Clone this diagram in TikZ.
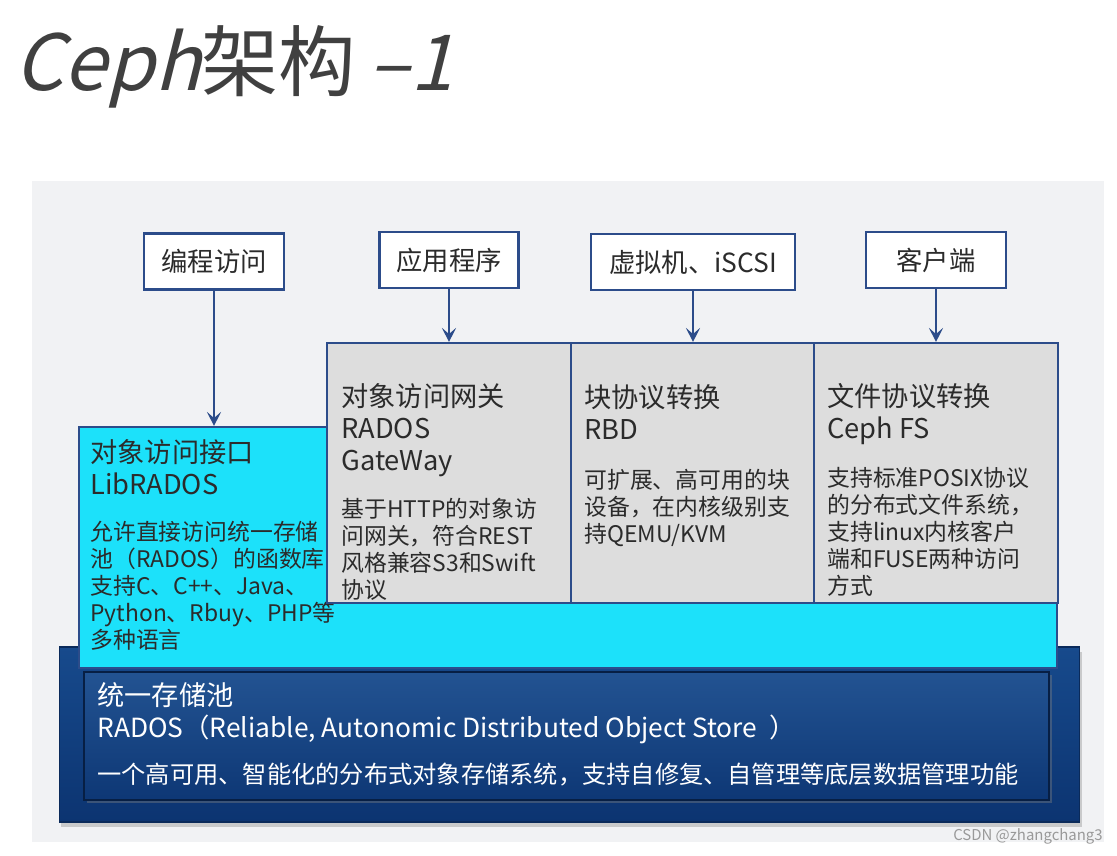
\documentclass[tikz,border=0pt]{standalone}
\usepackage{fontspec}
\setmainfont{Noto Sans CJK SC}
\newfontfamily\handfont[FakeSlant=0.25]{Noto Sans CJK SC}
\usepackage{xcolor}
\usepackage{tikz}
\usetikzlibrary{arrows.meta,shadows}

\definecolor{panelgray}{HTML}{F1F2F4}
\definecolor{lineblue}{HTML}{2C4C8A}
\definecolor{libcyan}{HTML}{1CE1FA}
\definecolor{gwgray}{HTML}{DDDDDD}
\definecolor{poolblue}{HTML}{174A8C}
\definecolor{pooldark}{HTML}{0C3471}
\definecolor{inktext}{HTML}{2B2B2B}

\begin{document}
\begin{tikzpicture}[x=0.02cm, y=-0.02cm,
    >={Stealth[length=8pt,width=8pt,inset=3.5pt]},
    accessbox/.style={draw=lineblue, line width=1.4pt, fill=white, minimum height=1.12cm, font=\fontsize{15}{18}\selectfont, text=inktext},
    layerbox/.style={draw=lineblue, line width=1.2pt, fill=gwgray, minimum width=4.88cm, minimum height=5.2cm},
    headtext/.style={anchor=north west, align=left, inner sep=0pt, font=\fontsize{15.5}{18.2}\selectfont, text=inktext},
    bodytext/.style={anchor=north west, align=left, inner sep=0pt, font=\fontsize{13}{15.4}\selectfont, text=inktext},
]
    \useasboundingbox (0,0) rectangle (1117,856);
    \fill[panelgray] (32,181) rectangle (1104,842);

    \node[anchor=base west, inner sep=0pt, font=\fontsize{44}{50}\selectfont, text=black!75] (title) at (14,90) {{\handfont Ceph}架构\,{\handfont –1}};

    % storage pool
    \node[draw=pooldark!80!black, line width=0.6pt, top color=poolblue, bottom color=pooldark, minimum width=20.42cm, minimum height=3.5cm, drop shadow={opacity=0.35, shadow xshift=1pt, shadow yshift=-3pt}] (rados) at (569.5,734.5) {};
    \node[draw=pooldark!60!black, line width=0.8pt, top color=poolblue!95!white, bottom color=pooldark!85!poolblue, minimum width=19.3cm, minimum height=2.56cm, drop shadow={opacity=0.4, shadow xshift=1.5pt, shadow yshift=-1.5pt}] (radosin) at (566.5,736) {};
    \node[headtext, text=white] (poolhead) at (97,682) {统一存储池};
    \node[anchor=base west, inner sep=0pt, font=\fontsize{15}{18}\selectfont, text=white] (poolname) at (97,737) {RADOS（Reliable, Autonomic Distributed Object Store \ ）};
    \node[anchor=north west, inner sep=0pt, font=\fontsize{13.8}{16}\selectfont, text=white] (pooldesc) at (97,763) {一个高可用、智能化的分布式对象存储系统，支持自修复、自管理等底层数据管理功能};

    % librados
    \node[draw=lineblue, line width=1.2pt, fill=libcyan, minimum width=19.56cm, minimum height=4.82cm] (lib) at (568,547.5) {};
    \node[headtext] (libhead) at (90,439) {对象访问接口\\LibRADOS};
    \node[bodytext] (libbody) at (90,521) {允许直接访问统一存储\\池（RADOS）的函数库\\支持C、C++、Java、\\Python、Rbuy、PHP等\\多种语言};

    % gateways
    \node[layerbox] (rgw) at (449,473) {};
    \node[layerbox] (rbd) at (693,473) {};
    \node[layerbox] (cephfs) at (936,473) {};

    \node[headtext] (rgwhead) at (341,383) {对象访问网关\\RADOS\\GateWay};
    \node[bodytext] (rgwbody) at (341,498) {基于HTTP的对象访\\问网关，符合REST\\风格兼容S3和Swift\\协议};
    \node[headtext] (rbdhead) at (584,384) {块协议转换\\RBD};
    \node[bodytext] (rbdbody) at (584,469) {可扩展、高可用的块\\设备，在内核级别支\\持QEMU/KVM};
    \node[headtext] (fshead) at (827,383) {文件协议转换\\Ceph FS};
    \node[bodytext] (fsbody) at (827,467) {支持标准POSIX协议\\的分布式文件系统，\\支持linux内核客户\\端和FUSE两种访问\\方式};

    % access paths
    \node[accessbox, minimum width=2.8cm] (prog) at (214,261.5) {编程访问};
    \node[accessbox, minimum width=2.78cm] (app) at (449,260) {应用程序};
    \node[accessbox, minimum width=4.08cm] (vm) at (693,262) {虚拟机、iSCSI};
    \node[accessbox, minimum width=2.8cm] (client) at (936,260) {客户端};

    \draw[->, lineblue, line width=1.2pt] (prog) -- (prog |- lib.north);
    \draw[->, lineblue, line width=1.2pt] (app) -- (rgw);
    \draw[->, lineblue, line width=1.2pt] (vm) -- (rbd);
    \draw[->, lineblue, line width=1.2pt] (client) -- (cephfs);

    \node[anchor=base east, inner sep=0pt, font=\fontsize{8.5}{10}\selectfont, text=gray!80] (mark) at (1103,840) {CSDN @zhangchang3};
\end{tikzpicture}
\end{document}
